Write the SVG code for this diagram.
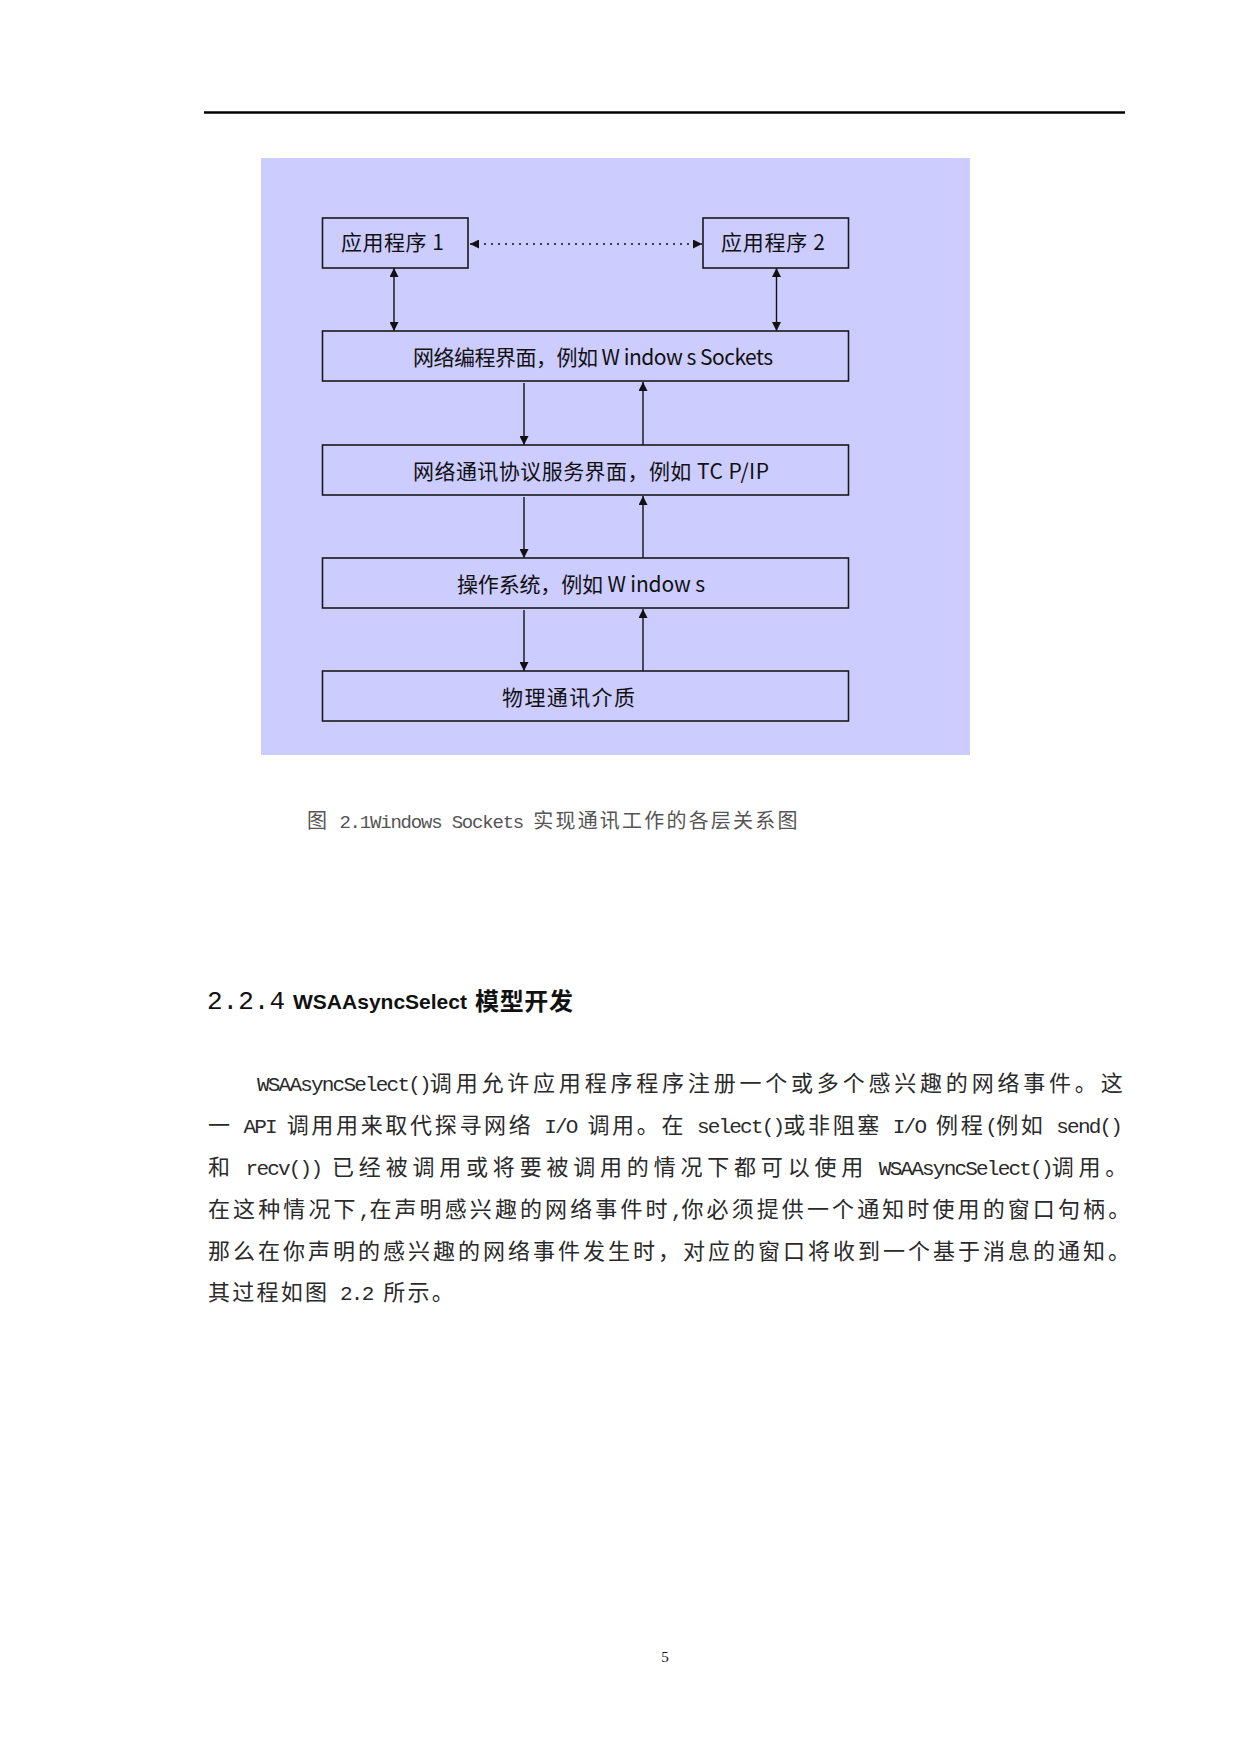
<svg xmlns="http://www.w3.org/2000/svg" width="1241" height="1755" viewBox="0 0 1241 1755">
<style>
.bg{fill:#CCCCFF}
.box{fill:#CCCCFF;stroke:#1a1a1a;stroke-width:1.6}
.bt{font-family:"Noto Sans CJK SC","DejaVu Sans",sans-serif;font-size:21px;fill:#111}
.con{stroke:#111;stroke-width:1.4;fill:none}
.dot{stroke:#111;stroke-width:1.6;fill:none;stroke-dasharray:2 5}
.body{font-family:"Noto Sans CJK SC",sans-serif;font-size:22px;fill:#2a2a2a;white-space:pre}
.l{font-family:"Liberation Mono","DejaVu Sans Mono",monospace;font-size:21px;letter-spacing:-1.8px}
.cap{font-family:"Noto Sans CJK SC",sans-serif;font-size:20px;fill:#555;white-space:pre}
.cl{font-family:"Liberation Mono","DejaVu Sans Mono",monospace;font-size:19px;letter-spacing:-1.2px}
</style>
<defs>
<marker id="ah" viewBox="0 0 10 10" refX="10" refY="5" markerWidth="9" markerHeight="9" markerUnits="userSpaceOnUse" orient="auto-start-reverse">
<path d="M0,0 L10,5 L0,10 z" fill="#111"/>
</marker>
</defs>
<rect x="0" y="0" width="1241" height="1755" fill="#ffffff"/>
<line x1="204" y1="112.5" x2="1125" y2="112.5" stroke="#000" stroke-width="2.4"/>
<rect class="bg" x="261" y="158" width="709" height="597"/>

<g id="connectors">
<line class="dot" x1="470" y1="244" x2="702" y2="244" marker-start="url(#ah)" marker-end="url(#ah)"/>
<line class="con" x1="394" y1="268" x2="394" y2="331" marker-start="url(#ah)" marker-end="url(#ah)"/>
<line class="con" x1="776.5" y1="268" x2="776.5" y2="331" marker-start="url(#ah)" marker-end="url(#ah)"/>
<line class="con" x1="524" y1="383" x2="524" y2="445" marker-end="url(#ah)"/>
<line class="con" x1="643" y1="445" x2="643" y2="382" marker-end="url(#ah)"/>
<line class="con" x1="524" y1="497" x2="524" y2="558" marker-end="url(#ah)"/>
<line class="con" x1="643" y1="558" x2="643" y2="496" marker-end="url(#ah)"/>
<line class="con" x1="524" y1="610" x2="524" y2="671" marker-end="url(#ah)"/>
<line class="con" x1="643" y1="671" x2="643" y2="609" marker-end="url(#ah)"/>
</g>

<g id="app1">
<rect class="box" x="322.5" y="218" width="145.5" height="50"/>
<text class="bt" x="341" y="249.5" textLength="103" lengthAdjust="spacing">应用程序 1</text>
</g>
<g id="app2">
<rect class="box" x="703" y="218" width="145.5" height="50"/>
<text class="bt" x="721" y="249.5" textLength="104" lengthAdjust="spacing">应用程序 2</text>
</g>
<g id="netprog">
<rect class="box" x="322.5" y="331" width="526" height="50"/>
<text class="bt" x="413" y="364.5" textLength="360" lengthAdjust="spacing">网络编程界面，例如 W indow s Sockets</text>
</g>
<g id="netproto">
<rect class="box" x="322.5" y="445" width="526" height="50"/>
<text class="bt" x="413" y="478.5" textLength="356" lengthAdjust="spacing">网络通讯协议服务界面，例如 TC P/IP</text>
</g>
<g id="os">
<rect class="box" x="322.5" y="558" width="526" height="50"/>
<text class="bt" x="457" y="591.5" textLength="248" lengthAdjust="spacing">操作系统，例如 W indow s</text>
</g>
<g id="phys">
<rect class="box" x="322.5" y="671" width="526" height="50"/>
<text class="bt" x="502" y="704.5" textLength="133" lengthAdjust="spacing">物理通讯介质</text>
</g>

<text class="cap" x="307" y="828"><tspan letter-spacing="2.2">图</tspan><tspan class="cl"> 2.1Windows Sockets </tspan><tspan letter-spacing="2.2">实现通讯工作的各层关系图</tspan></text>

<text x="207" y="1009" font-family="Liberation Mono, monospace" font-size="26" fill="#111">2.2.4</text>
<text x="293" y="1009" font-family="Liberation Sans, sans-serif" font-size="21" font-weight="bold" fill="#111" textLength="174" lengthAdjust="spacingAndGlyphs">WSAAsyncSelect</text>
<text x="475" y="1010" font-family="Noto Sans CJK SC, sans-serif" font-size="24" font-weight="bold" fill="#111" textLength="98" lengthAdjust="spacing">模型开发</text>

<text class="body" x="257" y="1091"><tspan class="l">WSAAsyncSelect()</tspan><tspan letter-spacing="3.8">调用允许应用程序程序注册一个或多个感兴趣的网络事件。这</tspan></text>
<text class="body" x="208" y="1133"><tspan letter-spacing="2.67">一</tspan><tspan class="l"> API </tspan><tspan letter-spacing="2.67">调用用来取代探寻网络</tspan><tspan class="l"> I/O </tspan><tspan letter-spacing="2.67">调用。在</tspan><tspan class="l"> select()</tspan><tspan letter-spacing="2.67">或非阻塞</tspan><tspan class="l"> I/O </tspan><tspan letter-spacing="2.67">例程</tspan><tspan class="l">(</tspan><tspan letter-spacing="2.67">例如</tspan><tspan class="l"> send()</tspan></text>
<text class="body" x="208" y="1175"><tspan letter-spacing="4.8">和</tspan><tspan class="l"> recv()) </tspan><tspan letter-spacing="4.8">已经被调用或将要被调用的情况下都可以使用</tspan><tspan class="l"> WSAAsyncSelect()</tspan><tspan letter-spacing="4.8">调用。</tspan></text>
<text class="body" x="208" y="1217"><tspan letter-spacing="3.1">在这种情况下</tspan><tspan class="l">,</tspan><tspan letter-spacing="3.1">在声明感兴趣的网络事件时</tspan><tspan class="l">,</tspan><tspan letter-spacing="3.1">你必须提供一个通知时使用的窗口句柄。</tspan></text>
<text class="body" x="208" y="1259" letter-spacing="3.0">那么在你声明的感兴趣的网络事件发生时，对应的窗口将收到一个基于消息的通知。</text>
<text class="body" x="208" y="1300"><tspan letter-spacing="2.25">其过程如图</tspan><tspan class="l"> 2.2 </tspan><tspan letter-spacing="2.25">所示。</tspan></text>

<text x="665" y="1662" text-anchor="middle" font-family="Liberation Serif, serif" font-size="15" fill="#111">5</text>
</svg>
